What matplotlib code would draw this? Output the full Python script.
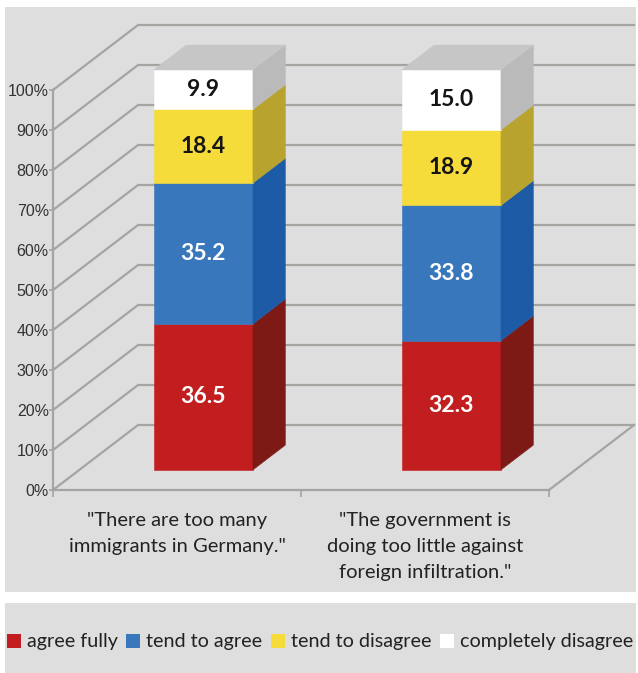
import matplotlib.pyplot as plt
from matplotlib.patches import Polygon, Rectangle, Patch

statements = ['"There are too many\nimmigrants in Germany."',
              '"The government is\ndoing too little against\nforeign infiltration."']
responses = ['agree fully', 'tend to agree', 'tend to disagree', 'completely disagree']
agree_fully = [36.5, 32.3]
tend_to_agree = [35.2, 33.8]
tend_to_disagree = [18.4, 18.9]
completely_disagree = [9.9, 15.0]
yticks = list(range(0, 101, 10))

front_colors = ['#c21e1f', '#3977bd', '#f5dc3a', '#ffffff']
side_colors = ['#7d1a16', '#1d5ba6', '#b8a32e', '#bababa']
top_color = '#c6c6c6'
label_colors = ['white', 'white', '#151515', '#151515']
bg = '#dedede'
grid_color = '#a6a4a1'

# oblique depth vector in data units (x: categories, y: percent)
DX, DY = 0.343, 16.25
D0, D1 = 0.31, 0.69   # bar sits in the middle of the depth
W = 0.40

plt.rcParams['font.family'] = ['Lato', 'DejaVu Sans']

fig = plt.figure(figsize=(6.38, 6.73), dpi=100)
fig.patch.set_facecolor('white')
fig.patches.append(Rectangle((5 / 638, 81 / 673), 631 / 638, 585 / 673,
                             transform=fig.transFigure, facecolor=bg,
                             edgecolor='none', zorder=0))
fig.patches.append(Rectangle((5 / 638, 0), 631 / 638, 70 / 673,
                             transform=fig.transFigure, facecolor=bg,
                             edgecolor='none', zorder=0))

ax = fig.add_axes([53 / 638, 183 / 673, 496 / 638, 400 / 673])
ax.set_zorder(2)
ax.set_facecolor('none')
ax.set_xlim(0, 2)
ax.set_ylim(0, 100)
for s in ['top', 'right']:
    ax.spines[s].set_visible(False)
for s in ['left', 'bottom']:
    ax.spines[s].set_color(grid_color)
    ax.spines[s].set_linewidth(1.6)

# side wall + back wall grid lines
for v in yticks:
    ax.plot([0, DX, 2 + DX], [v, v + DY, v + DY], color=grid_color,
            lw=1.6, clip_on=False, zorder=1, solid_joinstyle='miter')
# right edge of the floor
ax.plot([2, 2 + DX], [0, DY], color=grid_color, lw=1.6, clip_on=False, zorder=1)

series = [agree_fully, tend_to_agree, tend_to_disagree, completely_disagree]
for i in range(len(statements)):
    c = i + 0.5
    xl = c - W / 2
    xr = c + W / 2
    base = 0
    for k, vals in enumerate(series):
        v = vals[i]
        top = base + v
        front = [(xl + D0 * DX, base + D0 * DY), (xr + D0 * DX, base + D0 * DY),
                 (xr + D0 * DX, top + D0 * DY), (xl + D0 * DX, top + D0 * DY)]
        side = [(xr + D0 * DX, base + D0 * DY), (xr + D1 * DX, base + D1 * DY),
                (xr + D1 * DX, top + D1 * DY), (xr + D0 * DX, top + D0 * DY)]
        ax.add_patch(Polygon(front, closed=True, facecolor=front_colors[k],
                             edgecolor=front_colors[k], lw=0.4, clip_on=False, zorder=3))
        ax.add_patch(Polygon(side, closed=True, facecolor=side_colors[k],
                             edgecolor=side_colors[k], lw=0.4, clip_on=False, zorder=3))
        ax.text(c + D0 * DX, base + v / 2 + D0 * DY, f'{v:.1f}', ha='center',
                va='center', fontsize=16.5, fontweight='bold', color=label_colors[k],
                zorder=5, clip_on=False)
        base = top
    lid = [(xl + D0 * DX, base + D0 * DY), (xr + D0 * DX, base + D0 * DY),
           (xr + D1 * DX, base + D1 * DY), (xl + D1 * DX, base + D1 * DY)]
    ax.add_patch(Polygon(lid, closed=True, facecolor=top_color, edgecolor=top_color,
                         lw=0.4, clip_on=False, zorder=3))

ax.set_yticks(yticks)
ax.set_yticklabels([f'{v}%' for v in yticks], fontfamily='Liberation Sans',
                   fontsize=11.5, color='#333333')
ax.tick_params(axis='y', length=3, width=1.2, color=grid_color, pad=0)

ax.set_xticks([0, 1, 2])
ax.set_xticklabels([])
ax.tick_params(axis='x', which='major', length=5, width=1.2, color=grid_color)
ax.set_xticks([0.5, 1.5], minor=True)
ax.set_xticklabels(statements, minor=True, fontsize=14.5, color='#222222',
                   linespacing=1.65)
ax.tick_params(axis='x', which='minor', length=0, pad=16)

handles = [Patch(facecolor=col, edgecolor='none') for col in front_colors]
fig.legend(handles, responses, loc='center left',
           bbox_to_anchor=(7 / 638, 31 / 673), ncol=4, frameon=False,
           fontsize=14.2, handlelength=0.7, handleheight=0.7, handletextpad=0.3,
           columnspacing=0.45, labelcolor='#222222', borderaxespad=0,
           borderpad=0)

fig.savefig('out.png', dpi=100, facecolor='white')
